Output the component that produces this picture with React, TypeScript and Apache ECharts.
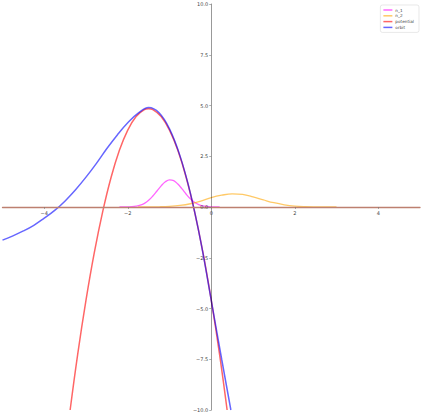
import React, { useEffect, useRef } from "react";
import * as echarts from "echarts";

// x positions and read values
const n1X = [-2.2, -2.0, -1.9, -1.8, -1.7, -1.6, -1.5, -1.4, -1.3, -1.2, -1.1, -1.0, -0.9, -0.8, -0.7, -0.6, -0.5, -0.4, -0.3, -0.2, -0.1, 0.0, 0.2];
const n1Y = [0, 0.007, 0.016, 0.041, 0.09, 0.18, 0.33, 0.54, 0.79, 1.04, 1.24, 1.34, 1.3, 1.13, 0.89, 0.63, 0.4, 0.23, 0.12, 0.056, 0.024, 0.009, 0];

const n2X = [-1.75, -1.5, -1.25, -1.0, -0.75, -0.5, -0.25, 0.0, 0.25, 0.5, 0.75, 1.0, 1.25, 1.5, 1.75, 2.0, 2.25, 2.5, 2.75, 3.0];
const n2Y = [0, 0.003, 0.011, 0.031, 0.077, 0.16, 0.29, 0.46, 0.58, 0.65, 0.62, 0.5, 0.35, 0.21, 0.11, 0.046, 0.017, 0.005, 0.001, 0];

const potX = [-3.38, -3.2, -3.0, -2.8, -2.6, -2.4, -2.2, -2.0, -1.8, -1.6, -1.5, -1.4, -1.2, -1.0, -0.8, -0.6, -0.4, -0.2, 0.0, 0.2, 0.38];
const potY = [-10, -7.27, -4.59, -2.24, -0.23, 1.45, 2.79, 3.79, 4.46, 4.8, 4.84, 4.8, 4.46, 3.79, 2.79, 1.45, -0.23, -2.24, -4.59, -7.27, -10];

const orbX = [-5, -4.75, -4.5, -4.25, -4.0, -3.75, -3.5, -3.25, -3.0, -2.75, -2.5, -2.25, -2.0, -1.75, -1.5, -1.25, -1.0, -0.75, -0.5, -0.25, 0.0, 0.25, 0.47];
const orbY = [-1.63, -1.42, -1.18, -0.9, -0.55, -0.17, 0.3, 0.85, 1.47, 2.15, 2.88, 3.55, 4.15, 4.62, 4.9, 4.64, 3.85, 2.53, 0.68, -1.72, -4.6, -7.5, -10];

const xTicks = [-4, -2, 0, 2, 4];
const yTicks = [-10, -7.5, -5, -2.5, 0, 2.5, 5, 7.5, 10];

const zip = (xs: number[], ys: number[]) => xs.map((x, i) => [x, ys[i]]);
const fmtMinus = (s: string) => s.replace("-", "\u2212");

const W = 423;
const H = 416;
const G = { left: 2.5, right: 3, top: 4, bottom: 6 };

export default function App() {
  const ref = useRef<HTMLDivElement>(null);
  useEffect(() => {
    if (!ref.current) return;
    const chart = echarts.init(ref.current, undefined, { renderer: "svg" });
    const plotW = W - G.left - G.right;
    const plotH = H - G.top - G.bottom;
    const lineSeries = (name: string, data: number[][], color: string, width: number) => ({
      name,
      type: "line",
      data,
      smooth: 0.4,
      showSymbol: false,
      symbol: "none",
      clip: true,
      color,
      lineStyle: { color, width },
      z: 2,
    });
    chart.setOption({
      animation: false,
      backgroundColor: "#ffffff",
      textStyle: { fontFamily: "DejaVu Sans" },
      grid: { ...G, containLabel: false, outerBoundsMode: "none" },
      legend: {
        orient: "vertical",
        right: 4,
        top: 5,
        data: ["n_1", "n_2", "potential", "orbit"],
        icon: "rect",
        itemWidth: 9,
        itemHeight: 1.5,
        itemGap: 1.8,
        padding: [3, 5, 3, 3],
        borderColor: "#d8d8d8",
        borderWidth: 0.6,
        borderRadius: 2,
        backgroundColor: "rgba(255,255,255,0.8)",
        textStyle: { fontSize: 4.2, color: "#444", padding: [0, 0, 0, -2] },
      },
      xAxis: {
        type: "value",
        min: -5,
        max: 5,
        z: 3,
        position: "bottom",
        offset: -plotH / 2,
        axisLine: { onZero: false, lineStyle: { color: "#bd8070", width: 1.3 } },
        axisTick: { show: true, length: 2, customValues: xTicks, lineStyle: { color: "#777", width: 0.6 } },
        axisLabel: {
          customValues: xTicks,
          fontSize: 5,
          color: "#444",
          margin: 3,
          formatter: (v: number) => fmtMinus(String(v)),
        },
        splitLine: { show: false },
      },
      yAxis: {
        type: "value",
        min: -10,
        max: 10,
        interval: 2.5,
        z: 3,
        position: "left",
        offset: -plotW / 2,
        axisLine: { show: true, onZero: false, lineStyle: { color: "rgba(0,0,0,0.4)", width: 1 } },
        axisTick: { show: true, length: 2, customValues: yTicks, lineStyle: { color: "#777", width: 0.6 } },
        axisLabel: {
          customValues: yTicks,
          fontSize: 5,
          color: "#444",
          margin: 3,
          formatter: (v: number) => fmtMinus(v.toFixed(1)),
        },
        splitLine: { show: false },
      },
      series: [
        lineSeries("n_1", zip(n1X, n1Y), "rgba(255,0,255,0.6)", 1.3),
        lineSeries("n_2", zip(n2X, n2Y), "rgba(255,165,0,0.6)", 1.3),
        lineSeries("potential", zip(potX, potY), "rgba(255,0,0,0.6)", 1.5),
        lineSeries("orbit", zip(orbX, orbY), "rgba(0,0,255,0.6)", 1.5),
      ],
    });
    return () => chart.dispose();
  }, []);
  return (
    <div
      ref={ref}
      style={{ position: "fixed", left: 0, top: 0, width: W, height: H }}
    />
  );
}
